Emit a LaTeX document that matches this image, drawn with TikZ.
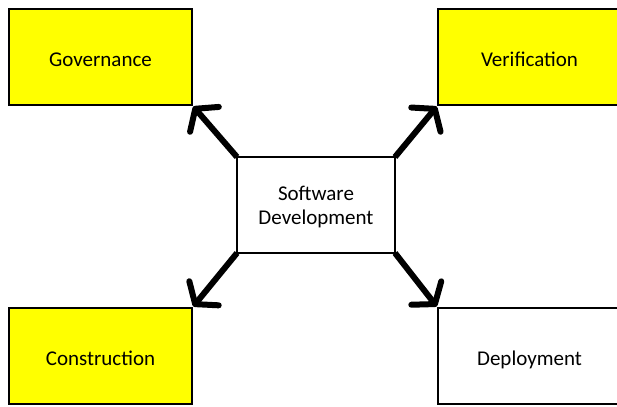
\documentclass[tikz,border=0pt]{standalone}
\usepackage{fontspec}
\setmainfont{Carlito}
\usetikzlibrary{arrows.meta,positioning}

\begin{document}
\begin{tikzpicture}[x=0.5pt,y=-0.5pt]
\tikzset{box/.style={draw=black,line width=0.8pt,minimum width=91.5pt,minimum height=48pt,
  inner sep=0pt,outer sep=0pt,align=center,text height=9pt,text depth=0pt,
  font=\fontsize{10.5}{12}\selectfont}}
\tikzset{hot/.style={box,fill=marker}}
\tikzset{push/.style={line width=3pt,shorten >=1pt,-{Straight Barb[length=7pt,width=19pt,round]}}}
\definecolor{marker}{RGB}{255,255,0}

\useasboundingbox (0,0) rectangle (617,407);
\clip (0,0) rectangle (617,407);

\node[box,minimum width=79pt,text height=19.5pt](sd)at(316,205){Software\\Development};
\node[hot,above left=26pt and 22.5pt of sd](gov){Governance};
\node[hot,above right=26pt and 21.5pt of sd](ver){Verification};
\node[hot,below left=27.5pt and 22.5pt of sd](con){Construction};
\node[box,below right=27.5pt and 21.5pt of sd](dep){Deployment};

\draw[push](sd.north west)--(gov.south east);
\draw[push](sd.north east)--(ver.south west);
\draw[push](sd.south west)--(con.north east);
\draw[push](sd.south east)--(dep.north west);
\end{tikzpicture}
\end{document}
